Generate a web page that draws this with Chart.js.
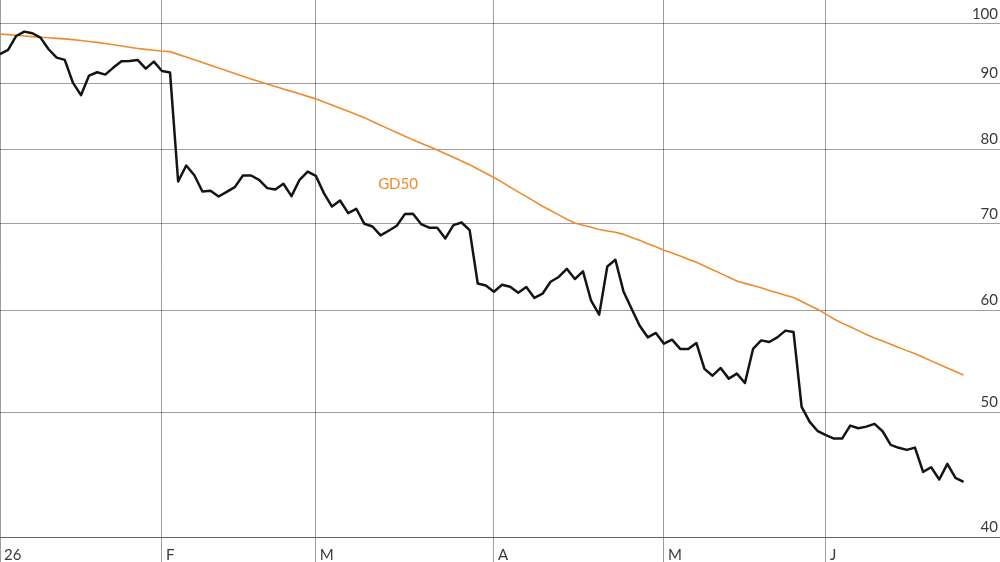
<!DOCTYPE html>
<html>
<head>
<meta charset="utf-8">
<script src="https://cdn.jsdelivr.net/npm/chart.js@4"></script>
<style>
  html, body { margin: 0; padding: 0; background: #ffffff; }
  #wrap { width: 1000px; height: 562px; position: relative; }
</style>
</head>
<body>
<div id="wrap"><canvas id="c" width="1000" height="562"></canvas></div>
<script>
// Daily closes (trading days from early January)
const closes = [
  94.74, 95.47, 97.88, 98.64, 98.36, 97.59, 95.59, 94.17, 93.79, 90.07,
  88.07, 91.20, 91.75, 91.36, 92.51, 93.57, 93.61, 93.79, 92.34, 93.50,
  91.96, 91.69, 75.50, 77.68, 76.35, 74.16, 74.25, 73.50, 74.12, 74.74,
  76.31, 76.31, 75.73, 74.61, 74.43, 75.19, 73.55, 75.73, 76.85, 76.27,
  73.95, 72.20, 72.98, 71.36, 71.91, 70.01, 69.67, 68.57, 69.15, 69.76,
  71.23, 71.27, 69.98, 69.52, 69.52, 68.20, 69.85, 70.17, 69.23, 62.94,
  62.72, 62.02, 62.80, 62.58, 61.91, 62.54, 61.33, 61.80, 63.13, 63.67,
  64.61, 63.44, 64.31, 61.03, 59.53, 64.88, 65.66, 62.05, 60.17, 58.37,
  57.17, 57.62, 56.53, 56.93, 56.00, 56.00, 56.60, 54.04, 53.39, 54.13,
  53.11, 53.59, 52.70, 56.00, 56.86, 56.70, 57.17, 57.86, 57.72, 50.50,
  49.16, 48.35, 48.01, 47.72, 47.72, 48.84, 48.61, 48.75, 48.99, 48.35,
  47.19, 46.94, 46.77, 46.96, 44.97, 45.34, 44.36, 45.62, 44.49, 44.18
];

// 50-day moving average (GD50)
const gd50 = [
  98.23, 98.11, 98.00, 97.89, 97.77, 97.67, 97.57, 97.47, 97.37, 97.25,
  97.09, 96.93, 96.77, 96.58, 96.36, 96.14, 95.92, 95.73, 95.57, 95.42,
  95.28, 95.18, 94.72, 94.26, 93.80, 93.37, 92.90, 92.44, 91.99, 91.54,
  91.10, 90.66, 90.23, 89.83, 89.44, 89.05, 88.67, 88.28, 87.88, 87.49,
  87.02, 86.53, 86.05, 85.57, 85.09, 84.61, 84.03, 83.47, 82.93, 82.39,
  81.85, 81.32, 80.83, 80.35, 79.87, 79.34, 78.83, 78.31, 77.79, 77.20,
  76.61, 76.03, 75.42, 74.75, 74.11, 73.48, 72.86, 72.24, 71.69, 71.13,
  70.59, 70.11, 69.84, 69.57, 69.29, 69.12, 68.96, 68.70, 68.33, 67.97,
  67.57, 67.19, 66.79, 66.44, 66.09, 65.73, 65.37, 64.94, 64.50, 64.08,
  63.64, 63.21, 62.95, 62.71, 62.46, 62.16, 61.90, 61.64, 61.37, 60.94,
  60.52, 60.09, 59.59, 59.07, 58.64, 58.25, 57.86, 57.46, 57.11, 56.79,
  56.47, 56.15, 55.83, 55.51, 55.17, 54.82, 54.47, 54.13, 53.79, 53.46
];

// Month boundaries (trading-day index) and their labels
const monthTickIdx = [0, 20, 39, 61, 82, 102];
const monthLabels = ['26', 'F', 'M', 'A', 'M', 'J'];

// Y axis tick values (log scale)
const yTickValues = [40, 50, 60, 70, 80, 90, 100];

const seriesLabel = 'GD50';

const toPoints = arr => arr.map((v, i) => ({ x: i, y: v }));

const GRID = 'rgba(0,0,0,0.38)';
const ORANGE = '#ee8b2c';
const TEXT = '#3a3a3a';

Chart.defaults.font.family = 'Lato, "Open Sans", sans-serif';
Chart.defaults.font.size = 15;
Chart.defaults.color = TEXT;

const labelPlugin = {
  id: 'gd50Label',
  afterDatasetsDraw(chart) {
    const { ctx, scales } = chart;
    const x = scales.x.getPixelForValue(46.7);
    const y = scales.y.getPixelForValue(75.2);
    ctx.save();
    ctx.font = '15px Lato, "Open Sans", sans-serif';
    ctx.fillStyle = ORANGE;
    ctx.textAlign = 'left';
    ctx.textBaseline = 'middle';
    ctx.fillText(seriesLabel, x, y);
    ctx.restore();
  }
};

new Chart(document.getElementById('c'), {
  type: 'line',
  data: {
    datasets: [
      {
        label: 'Kurs',
        data: toPoints(closes),
        borderColor: '#141414',
        borderWidth: 2.5,
        pointRadius: 0,
        tension: 0,
        borderJoinStyle: 'round',
        order: 1
      },
      {
        label: seriesLabel,
        data: toPoints(gd50),
        borderColor: ORANGE,
        borderWidth: 1.6,
        pointRadius: 0,
        tension: 0,
        order: 2
      }
    ]
  },
  options: {
    responsive: false,
    animation: false,
    events: [],
    layout: { padding: 0 },
    plugins: { legend: { display: false }, tooltip: { enabled: false } },
    scales: {
      x: {
        type: 'linear',
        position: 'bottom',
        min: 0,
        max: 123.5,
        afterBuildTicks: scale => { scale.ticks = monthTickIdx.map(v => ({ value: v })); },
        afterFit: scale => {
          scale.height = 24.5;
          scale.paddingLeft = 0; scale.paddingRight = 0;
        },
        grid: { color: GRID, lineWidth: 1, drawTicks: true, tickLength: 25, tickColor: GRID },
        border: { display: true, color: GRID },
        ticks: {
          autoSkip: false,
          maxRotation: 0,
          align: 'start',
          labelOffset: 4,
          padding: -16,
          color: TEXT,
          callback: (val, idx) => monthLabels[idx]
        }
      },
      y: {
        type: 'logarithmic',
        position: 'right',
        min: 40,
        max: 104.37,
        afterBuildTicks: scale => { scale.ticks = yTickValues.map(v => ({ value: v })); },
        afterFit: scale => {
          scale.width = 0;
          scale.paddingTop = 0; scale.paddingBottom = 0;
        },
        grid: { color: GRID, lineWidth: 1, drawTicks: false },
        border: { display: false },
        ticks: {
          mirror: true,
          padding: -2,
          labelOffset: -10,
          color: TEXT,
          callback: v => String(v)
        }
      }
    }
  },
  plugins: [labelPlugin]
});
</script>
</body>
</html>
